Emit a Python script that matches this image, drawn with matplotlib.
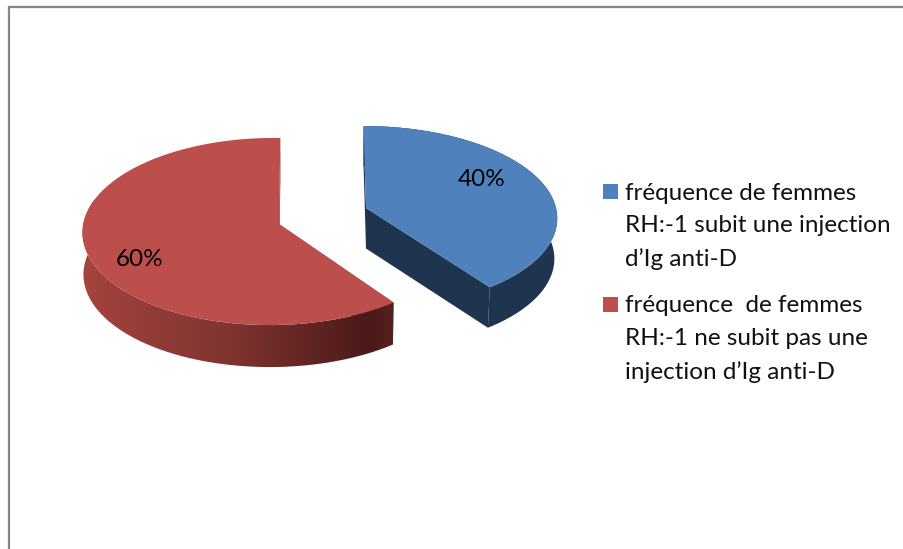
import numpy as np
import matplotlib
matplotlib.use('Agg')
import matplotlib.pyplot as plt
from matplotlib.colors import LinearSegmentedColormap
from matplotlib.patches import Polygon, Rectangle

# share of women, in percent
values = [40, 60]
labels = ["fréquence de femmes\nRH:-1 subit une injection\nd’Ig anti-D",
          "fréquence  de femmes\nRH:-1 ne subit pas une\ninjection d’Ig anti-D"]
top_colors = ['#4F81BD', '#BC4F4B']

plt.rcParams['font.family'] = ['Lato', 'DejaVu Sans']

# look of each exploded slice: apex, radii, perspective terms, wall height
slices = [
    dict(apex=(366, 208), a=190, b=90.1, p=0.099, q=0.0, s=-2.7, depth=40.5, shrink=0.985),
    dict(apex=(279, 224), a=188.5, b=92.9, p=0.080, q=0.037, s=1.5, depth=42, shrink=0.995),
]

# wall shading of the red slice runs from left to right
red_wall = LinearSegmentedColormap.from_list(
    'red_wall', [(0, '#A5443F'), (0.5, '#7E332F'), (0.92, '#4A1A19'), (1, '#552220')])
blue_wall = '#1F344F'


def project(theta, g):
    # disc point to screen, theta clockwise from 12 o'clock
    u = np.sin(theta)
    v = np.cos(theta)
    w = 1 + g['p'] * v + g['q'] * u
    x = g['apex'][0] + (g['a'] * u + g['s'] * v) / w
    y = g['apex'][1] - g['b'] * v / w
    return x, y


def lower(x, y, g):
    # same point on the underside of the slice
    return g['apex'][0] + (x - g['apex'][0]) * g['shrink'], y + g['depth']


fig = plt.figure(figsize=(9.04, 5.49), dpi=100)
ax = fig.add_axes([0, 0, 1, 1])
ax.axis('off')

# frame only shows on top and left
ax.plot([9.5, 9.5, 904], [549, 6.5, 6.5], color='#868686', lw=1.6, solid_joinstyle='miter')

fracs = np.cumsum([0] + values) / sum(values)
for i, g in enumerate(slices):
    start, end = fracs[i] * 2 * np.pi, fracs[i + 1] * 2 * np.pi
    thetas = np.linspace(start, end, 300)
    xs, ys = project(thetas, g)
    bx, by = lower(xs, ys, g)
    ax_, ay_ = g['apex']
    abx, aby = lower(ax_, ay_, g)

    # cut faces first, then the outer wall, then the top face over them
    for k in [0, -1]:
        ax.add_patch(Polygon([(ax_, ay_), (xs[k], ys[k]), (bx[k], by[k]), (abx, aby)],
                             closed=True, fc=blue_wall if i == 0 else '#5E2A28',
                             ec='none', zorder=2))
    wall_pts = np.r_[np.c_[xs, ys], np.c_[bx, by][::-1]]
    if i == 0:
        ax.add_patch(Polygon(wall_pts, closed=True, fc=blue_wall, ec='none', zorder=3))
    else:
        wall = Polygon(wall_pts, closed=True, fc='none', ec='none', zorder=3)
        ax.add_patch(wall)
        ramp = np.linspace(0, 1, 512).reshape(1, -1)
        im = ax.imshow(ramp, cmap=red_wall, extent=(78, 396, 380, 200), aspect='auto',
                       interpolation='bilinear', zorder=3)
        im.set_clip_path(wall)
    ax.add_patch(Polygon(np.r_[[(ax_, ay_)], np.c_[xs, ys]], closed=True,
                         fc=top_colors[i], ec='none', zorder=4))

# value labels on the top faces
for v, (lx, ly) in zip(values, [(481.5, 179), (140, 259)]):
    ax.text(lx, ly, f'{v}%', ha='center', va='center', fontsize=17.5, color='black', zorder=5)

# legend
for i, (txt, (ky, ty)) in enumerate(zip(labels, [(191.5, 182.5), (304.5, 295)])):
    ax.add_patch(Rectangle((603, ky - 7.5), 15, 15, fc=top_colors[i], ec='none'))
    ax.text(625, ty, txt, ha='left', va='top', fontsize=17.5, color='#111111', linespacing=1.68)

ax.set_xlim(0, 904)
ax.set_ylim(549, 0)

fig.savefig('out.png', dpi=100)
